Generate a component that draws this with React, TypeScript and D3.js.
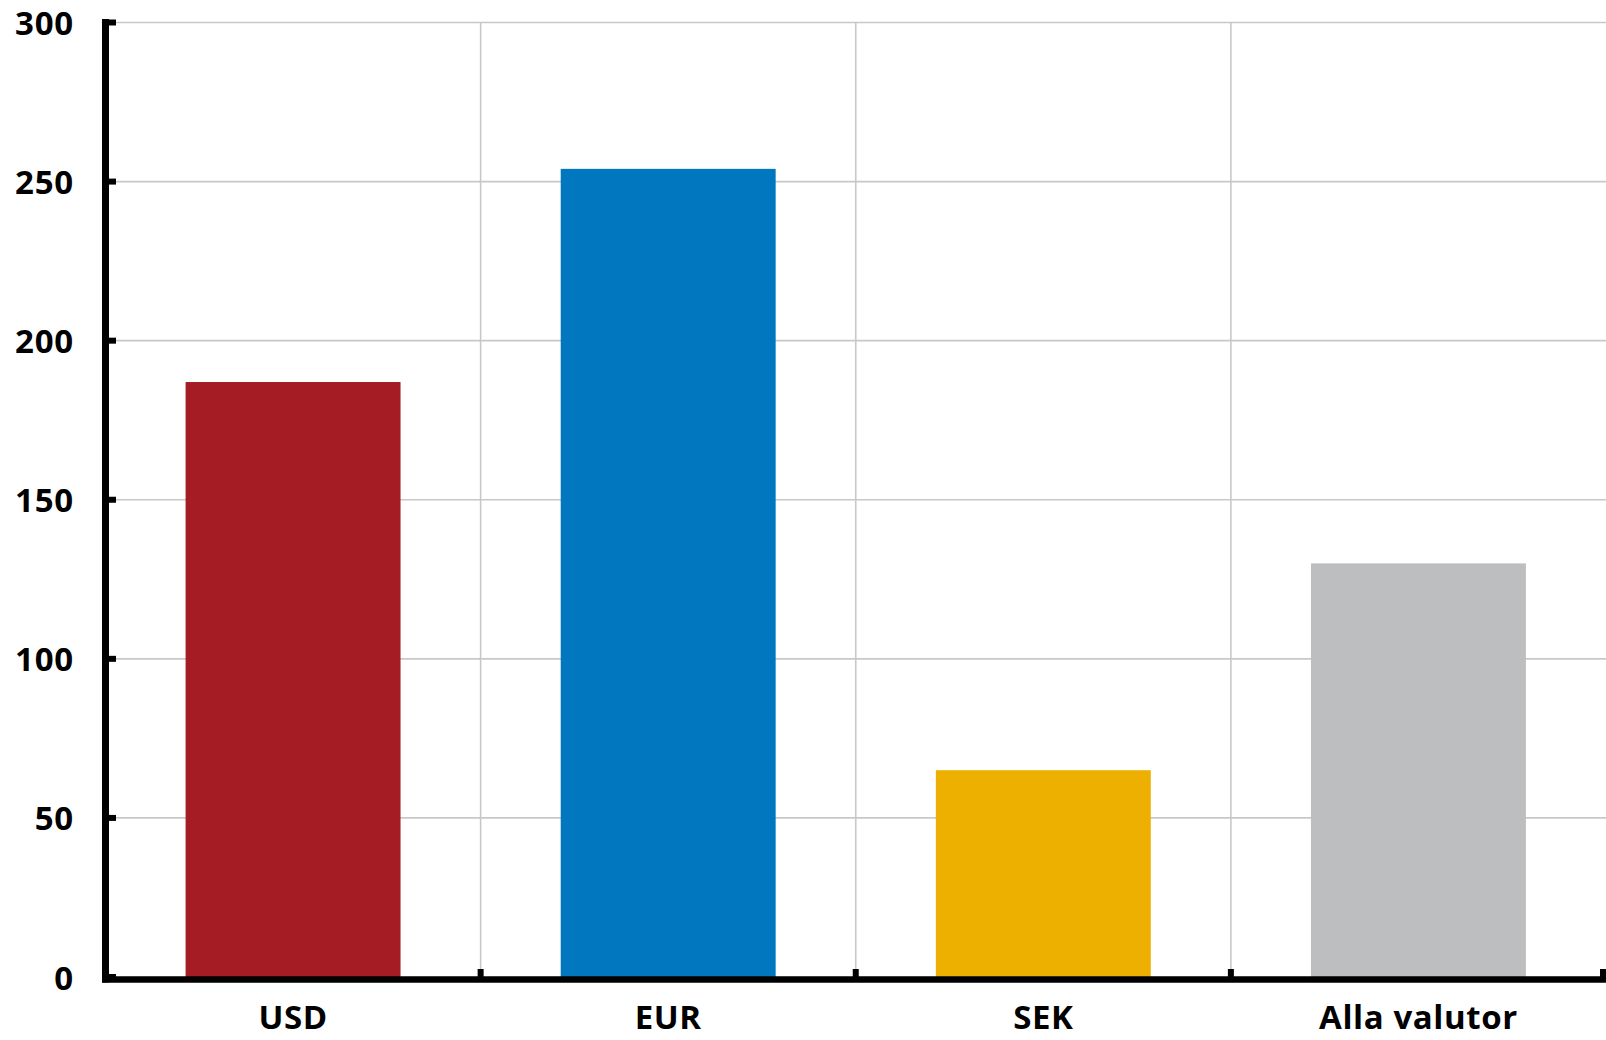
import React from "react";
import * as d3 from "d3";

const categories = ["USD", "EUR", "SEK", "Alla valutor"];
const values = [187, 254, 65, 130];
const colors = ["#a51c24", "#0077be", "#eeb000", "#bdbec0"];
const yTicks = [0, 50, 100, 150, 200, 250, 300];

const W = 1606;
const H = 1040;
const left = 105.5;
const right = 1606;
const top = 22.5;
const bottom = 977;

export default function App() {
  const x = d3.scaleBand<string>().domain(categories).range([left, right]).paddingInner(0.427).paddingOuter(0.2135);
  const xb = d3.scaleBand<string>().domain(categories).range([left, right]);
  const y = d3.scaleLinear().domain([0, 300]).range([bottom, top]);
  const font = "'Open Sans', 'Noto Sans', sans-serif";
  const boundaries = categories.map((c) => (xb(c) as number) + xb.bandwidth());

  return (
    <svg width={W} height={H} style={{ position: "absolute", left: 0, top: 0, background: "#fff" }}>
      <rect x={0} y={0} width={W} height={H} fill="#fff" />
      {yTicks.filter((t) => t > 0).map((t) => (
        <line key={"gy" + t} x1={left} x2={right} y1={y(t)} y2={y(t)} stroke="#c8c8c8" strokeWidth={1.6} />
      ))}
      {boundaries.slice(0, -1).map((b, i) => (
        <line key={"gx" + i} x1={b} x2={b} y1={top} y2={bottom} stroke="#c8c8c8" strokeWidth={1.6} />
      ))}
      {categories.map((c, i) => (
        <rect key={c} x={x(c)} y={y(values[i])} width={x.bandwidth()} height={y(0) - y(values[i])} fill={colors[i]} />
      ))}
      {/* y axis */}
      <line x1={left} x2={left} y1={19} y2={982.5} stroke="#000" strokeWidth={7} />
      {yTicks.map((t) => (
        <line key={"ty" + t} x1={left} x2={116} y1={y(t)} y2={y(t)} stroke="#000" strokeWidth={6} />
      ))}
      {/* x axis */}
      <line x1={left - 3.5} x2={right} y1={979.5} y2={979.5} stroke="#000" strokeWidth={6.5} />
      {boundaries.map((b, i) => (
        <line key={"tx" + i} x1={Math.min(b, right - 3)} x2={Math.min(b, right - 3)} y1={969} y2={979} stroke="#000" strokeWidth={6} />
      ))}
      {yTicks.map((t) => (
        <text key={"ly" + t} x={74} y={y(t)} textAnchor="end" dominantBaseline="central" fontFamily={font} fontWeight={700} fontSize={33} letterSpacing={0.8} fill="#000">
          {t}
        </text>
      ))}
      {categories.map((c) => (
        <text key={"lx" + c} x={(x(c) as number) + x.bandwidth() / 2} y={1029} textAnchor="middle" fontFamily={font} fontWeight={700} fontSize={33} letterSpacing={0.6} fill="#000">
          {c}
        </text>
      ))}
    </svg>
  );
}
